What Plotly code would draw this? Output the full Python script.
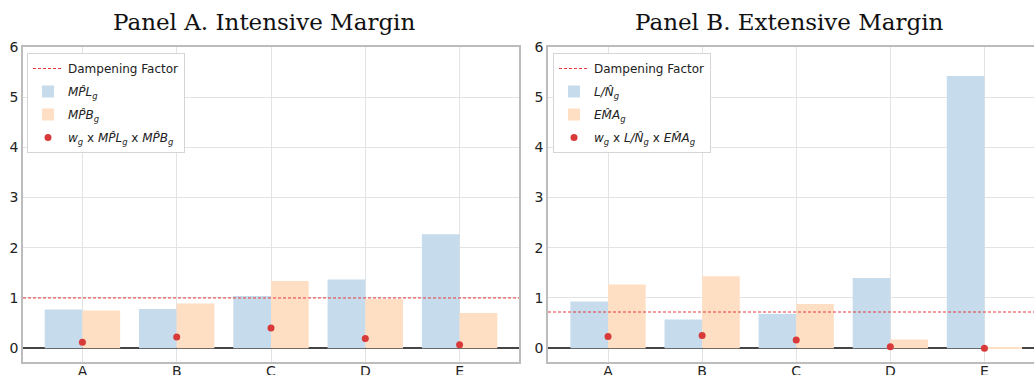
import plotly.graph_objects as go

categories = ["A", "B", "C", "D", "E"]

# Panel A: Intensive margin
mpl_hat = [0.77, 0.78, 1.04, 1.37, 2.27]
mpb_hat = [0.75, 0.89, 1.34, 0.98, 0.70]
prod_a = [0.12, 0.22, 0.40, 0.19, 0.07]
damp_a = 1.0

# Panel B: Extensive margin
ln_hat = [0.93, 0.57, 0.68, 1.40, 5.42]
ema_hat = [1.27, 1.43, 0.88, 0.17, 0.01]
prod_b = [0.23, 0.25, 0.16, 0.03, 0.00]
damp_b = 0.72

titles = ["Panel A. Intensive Margin", "Panel B. Extensive Margin"]

BLUE = "#c6dbeb"
ORANGE = "#ffdfc3"
RED = "#d83a3a"
FRAME = "#bcbcbc"
GRID = "#e3e3e3"

W, H = 1034, 375
fig = go.Figure()

panels = [
    dict(blue=mpl_hat, orange=mpb_hat, dots=prod_a, damp=damp_a,
         names=["<i>MP̂L</i><sub><i>g</i></sub>", "<i>MP̂B</i><sub><i>g</i></sub>",
                "<i>w</i><sub><i>g</i></sub> x <i>MP̂L</i><sub><i>g</i></sub> x <i>MP̂B</i><sub><i>g</i></sub>"],
         xa="x", ya="y", legend="legend"),
    dict(blue=ln_hat, orange=ema_hat, dots=prod_b, damp=damp_b,
         names=["<i>L/N̂</i><sub><i>g</i></sub>", "<i>EM̂A</i><sub><i>g</i></sub>",
                "<i>w</i><sub><i>g</i></sub> x <i>L/N̂</i><sub><i>g</i></sub> x <i>EM̂A</i><sub><i>g</i></sub>"],
         xa="x2", ya="y2", legend="legend2"),
]

for k, p in enumerate(panels):
    fig.add_trace(go.Bar(x=categories, y=p["blue"], name=p["names"][0], marker_color=BLUE,
                         marker_line_width=0, xaxis=p["xa"], yaxis=p["ya"], legend=p["legend"],
                         legendrank=2, offsetgroup="1", legendgroup=f"b{k}"))
    fig.add_trace(go.Bar(x=categories, y=p["orange"], name=p["names"][1], marker_color=ORANGE,
                         marker_line_width=0, xaxis=p["xa"], yaxis=p["ya"], legend=p["legend"],
                         legendrank=3, offsetgroup="2", legendgroup=f"o{k}"))
    fig.add_trace(go.Scatter(x=categories, y=p["dots"], name=p["names"][2], mode="markers",
                             marker=dict(color=RED, size=7), xaxis=p["xa"], yaxis=p["ya"],
                             legend=p["legend"], legendrank=4, legendgroup=f"d{k}"))
    fig.add_shape(type="line", xref=p["xa"] + " domain", yref=p["ya"], x0=0, x1=1,
                  y0=p["damp"], y1=p["damp"], line=dict(color="#e8383d", width=1, dash="3px,2px"),
                  showlegend=True, legend=p["legend"], name="Dampening Factor", legendrank=1,
                  legendgroup=f"l{k}")

fig.update_layout(barmode="group", bargap=0.2, bargroupgap=0)

xdom1 = [23 / W, 519 / W]
xdom2 = [548 / W, 1.0]
ydom = [(H - 361.7) / H, (H - 47) / H]

axis_common = dict(showgrid=True, gridcolor=GRID, gridwidth=1, showline=True, linecolor=FRAME,
                   linewidth=1.5, ticks="", tickfont=dict(family="DejaVu Sans", size=14, color="#222"),
                   automargin=False)

fig.update_layout(
    xaxis=dict(domain=xdom1, range=[-0.63, 4.63], mirror=True, anchor="y",
               ticklabelstandoff=-4, **axis_common),
    yaxis=dict(domain=ydom, range=[-0.27, 6], mirror=True, anchor="x", dtick=1,
               zeroline=True, zerolinecolor="#454545", zerolinewidth=1.5, **axis_common),
    xaxis2=dict(domain=xdom2, range=[-0.638, 4.527], mirror=True, anchor="y2",
                ticklabelstandoff=-4, **axis_common),
    yaxis2=dict(domain=ydom, range=[-0.27, 6], mirror=False, anchor="x2", dtick=1,
                zeroline=True, zerolinecolor="#454545", zerolinewidth=1.5, **axis_common),
)

legend_common = dict(bgcolor="white", bordercolor="#d5d5d5", borderwidth=1,
                     font=dict(family="DejaVu Sans", size=12, color="#222"),
                     xanchor="left", yanchor="top", tracegroupgap=4)
fig.update_layout(
    legend=dict(x=27 / W, y=(H - 53) / H, **legend_common),
    legend2=dict(x=553 / W, y=(H - 53) / H, **legend_common),
)

for i, t in enumerate(titles):
    fig.add_annotation(text=t, xref="paper", yref="paper", x=[264 / W, 789 / W][i],
                       y=(H - 22) / H, xanchor="center", yanchor="middle", showarrow=False,
                       font=dict(family="DejaVu Serif", size=23, color="#111"))

fig.update_layout(width=W, height=H, margin=dict(l=0, r=0, t=0, b=0),
                  plot_bgcolor="white", paper_bgcolor="white", showlegend=True)

fig.write_html("out.html", config={"displayModeBar": False},
               post_script="document.body.style.margin='0';")
